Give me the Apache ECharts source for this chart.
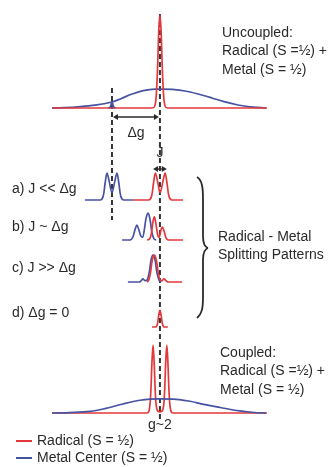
<!DOCTYPE html>
<html>
<head>
<meta charset="utf-8">
<script src="https://cdn.jsdelivr.net/npm/echarts@6/dist/echarts.min.js"></script>
<style>
  html, body { margin: 0; padding: 0; background: #ffffff; }
  #chart { width: 329px; height: 467px; }
</style>
</head>
<body>
<div id="chart"></div>
<script>
// ---- Field positions (arbitrary field units, 0-100) ----
const radicalField = 50.2;          // g ~ 2
const metalField = 27.9;            // metal centre g-value
const jSpan = [47.0, 53.4];         // width marked by the J arrow

// ---- Traces: [field, intensity] ----
// Uncoupled: radical (S = 1/2) + metal (S = 1/2)
const uncoupledRadical = [[0,0],[46.5,0],[47.8,0.02],[48.6,0.18],[49.2,0.5],[49.7,0.85],[50.2,1.0],[50.7,0.85],[51.2,0.5],[51.8,0.18],[52.6,0.02],[53.9,0],[100,0]];
const uncoupledMetal = [[0,0],[6,0.004],[12.1,0.012],[20,0.03],[27.9,0.065],[32,0.1],[37.2,0.15],[42,0.185],[47.9,0.204],[51.2,0.204],[56,0.2],[61.9,0.183],[68,0.15],[74.4,0.108],[80,0.068],[86.5,0.032],[92,0.012],[99.5,0]];
const uncoupledMetalLine = [[26.3,0],[27.2,0.015],[27.9,0.065],[28.6,0.015],[29.5,0]];

// a) J << dg
const aMetal = [[15.3,0],[22.5,0],[23.8,0.04],[24.7,0.18],[25.6,0.29],[26.6,0.2],[27.9,0.08],[29.2,0.2],[30.2,0.29],[31.1,0.18],[32,0.04],[33.3,0],[37.7,0]];
const aRadical = [[37.7,0],[45,0],[46.3,0.04],[47.2,0.18],[48.1,0.29],[49.1,0.2],[50.3,0.08],[51.6,0.2],[52.6,0.29],[53.5,0.18],[54.4,0.04],[55.7,0],[60.9,0]];

// b) J ~ dg
const bMetal = [[32.6,0],[36.4,0],[37.6,0.03],[38.6,0.11],[39.5,0.16],[40.4,0.11],[41.2,0.05],[42.1,0.03],[43.0,0.12],[43.8,0.24],[44.7,0.29],[45.6,0.22],[46.5,0.08],[47.5,0.01],[48.5,0]];
const bRadical = [[44.2,0],[45.4,0.01],[46.2,0.07],[47.0,0.2],[47.6,0.25],[48.3,0.18],[49.2,0.05],[49.8,0.03],[50.5,0.09],[51.3,0.14],[52.2,0.09],[53.1,0.02],[54.2,0],[60.9,0]];

// c) J >> dg
const cMetal = [[35.3,0],[40.5,0],[41.5,0.015],[42.3,0.035],[43.2,0.015],[44.2,0.02],[45.2,0.1],[46.1,0.24],[47.0,0.29],[47.9,0.24],[48.8,0.1],[49.8,0.02],[50.8,0]];
const cRadical = [[44.2,0],[45.0,0.02],[45.8,0.1],[46.7,0.24],[47.6,0.29],[48.5,0.24],[49.4,0.1],[50.3,0.02],[51.2,0.015],[52.1,0.035],[53.0,0.015],[54.0,0],[60.5,0]];

// d) dg = 0
const dRadical = [[46.5,0],[48.2,0],[49.0,0.03],[49.6,0.12],[50.2,0.18],[50.8,0.12],[51.4,0.03],[52.2,0],[53.9,0]];

// Coupled: radical (S = 1/2) + metal (S = 1/2)
const coupledRadical = [[0,0],[44.2,0],[45.2,0.03],[45.9,0.2],[46.5,0.55],[47.0,0.73],[47.5,0.55],[48.1,0.2],[48.8,0.04],[50.2,0.012],[51.6,0.04],[52.3,0.2],[52.9,0.55],[53.4,0.73],[53.9,0.55],[54.5,0.2],[55.2,0.03],[56.2,0],[100,0]];
const coupledMetal = [[0,0],[8,0.005],[17.7,0.018],[25,0.05],[33,0.097],[40.9,0.137],[45.6,0.15],[50.2,0.152],[56.3,0.15],[64.2,0.126],[70,0.095],[76.7,0.065],[87.4,0.022],[93,0.008],[99.5,0]];

// ---- Text ----
const radicalName = 'Radical (S = ½)';
const metalName = 'Metal Center (S = ½)';
const patternLabels = ['a) J << Δg', 'b) J ~ Δg', 'c) J >> Δg', 'd) Δg = 0'];
const uncoupledLabel = ['Uncoupled:', 'Radical (S =½) +', 'Metal (S = ½)'];
const coupledLabel = ['Coupled:', 'Radical (S =½) +', 'Metal (S = ½)'];
const splittingLabel = ['Radical - Metal', 'Splitting Patterns'];

// ---- Layout ----
const RED = '#e3383b';
const BLUE = '#4652a2';
const INK = '#2a2a2a';
const FONT = '"Liberation Sans", Arial, sans-serif';
const baselines = [108, 200, 240, 282, 327, 413];   // one strip per trace set
const stripH = 93;                                  // pixels per unit intensity

const grids = baselines.map(b => ({ left: 52, right: 62, top: b - stripH, height: stripH }));
const xAxes = grids.map((g, i) => ({ type: 'value', gridIndex: i, min: 0, max: 100, show: false }));
const yAxes = grids.map((g, i) => ({ type: 'value', gridIndex: i, min: 0, max: 1, show: false }));

function trace(data, strip, color, name, width) {
  return {
    type: 'line', name: name, data: data, xAxisIndex: strip, yAxisIndex: strip,
    showSymbol: false, smooth: 0.35, clip: false,
    lineStyle: { color: color, width: width || 1.7 },
    itemStyle: { color: color }
  };
}

const series = [
  trace(uncoupledMetal, 0, BLUE, metalName),
  trace(uncoupledRadical, 0, RED, radicalName),
  trace(uncoupledMetalLine, 0, BLUE, metalName),
  trace(aMetal, 1, BLUE, metalName),
  trace(aRadical, 1, RED, radicalName),
  trace(bMetal, 2, BLUE, metalName),
  trace(bRadical, 2, RED, radicalName),
  trace(cMetal, 3, BLUE, metalName),
  trace(cRadical, 3, RED, radicalName),
  trace(dRadical, 4, RED, radicalName),
  trace(coupledRadical, 5, RED, radicalName),
  trace(coupledMetal, 5, BLUE, metalName)
];

const chart = echarts.init(document.getElementById('chart'), null, { renderer: 'canvas' });
chart.setOption({
  backgroundColor: '#ffffff',
  animation: false,
  grid: grids,
  xAxis: xAxes,
  yAxis: yAxes,
  legend: {
    orient: 'vertical', left: 16, top: 434, padding: 0,
    icon: 'rect', itemWidth: 16, itemHeight: 2, itemGap: 3,
    data: [radicalName, metalName],
    textStyle: { fontFamily: FONT, fontSize: 14, color: INK }
  },
  series: series
});

// ---- Annotations placed from the field axis ----
const fx = v => chart.convertToPixel({ xAxisIndex: 0 }, v);

function text(str, x, y, align, size) {
  return { type: 'text', silent: true, style: {
    text: str, x: x, y: y, fill: INK, align: align || 'left', verticalAlign: 'middle',
    font: (size || 14) + 'px ' + FONT } };
}
function seg(x1, y1, x2, y2, color, w, dash) {
  return { type: 'line', silent: true, shape: { x1: x1, y1: y1, x2: x2, y2: y2 },
    style: { stroke: color, lineWidth: w, lineDash: dash || null } };
}
function curve(p0, c1, c2, p1) {
  return { type: 'bezierCurve', silent: true,
    shape: { x1: p0[0], y1: p0[1], cpx1: c1[0], cpy1: c1[1], cpx2: c2[0], cpy2: c2[1], x2: p1[0], y2: p1[1] },
    style: { fill: null, stroke: INK, lineWidth: 1.8 } };
}
function doubleArrow(x1, x2, y) {
  const L = 5, W = 3;
  return [
    seg(x1 + 2, y, x2 - 2, y, INK, 1.3),
    { type: 'polygon', silent: true, shape: { points: [[x1, y], [x1 + L, y - W], [x1 + L, y + W]] },
      style: { fill: INK } },
    { type: 'polygon', silent: true, shape: { points: [[x2, y], [x2 - L, y - W], [x2 - L, y + W]] },
      style: { fill: INK } }
  ];
}

const xR = fx(radicalField), xM = fx(metalField);
const graphic = [
  seg(xM, 88, xM, 220, '#333333', 2, [5, 3]),
  seg(xR, 14, xR, 419, '#333333', 2, [5, 3]),
  ...doubleArrow(xM + 1, xR - 1, 117),
  ...doubleArrow(fx(jSpan[0]), fx(jSpan[1]), 169),
  text('Δg', (xM + xR) / 2, 133, 'center'),
  text('J', xR, 153, 'center'),
  text('g~2', xR, 425, 'center'),
  // brace grouping the splitting patterns
  curve([197, 177], [202.5, 180], [203, 189], [203, 200]),
  { type: 'line', silent: true, shape: { x1: 203, y1: 200, x2: 203, y2: 236 }, style: { stroke: INK, lineWidth: 1.8 } },
  curve([203, 236], [203, 244], [204.5, 247], [208, 248]),
  curve([208, 248], [204.5, 249], [203, 252], [203, 260]),
  { type: 'line', silent: true, shape: { x1: 203, y1: 260, x2: 203, y2: 297 }, style: { stroke: INK, lineWidth: 1.8 } },
  curve([203, 297], [203, 308], [202, 314], [197, 318])
];
uncoupledLabel.forEach((s, i) => graphic.push(text(s, 222, 33 + i * 18.5)));
coupledLabel.forEach((s, i) => graphic.push(text(s, 220, 353 + i * 18.5)));
splittingLabel.forEach((s, i) => graphic.push(text(s, 218, 237 + i * 18)));
[189, 227, 268, 313].forEach((y, i) => graphic.push(text(patternLabels[i], 12, y)));

chart.setOption({ graphic: graphic });
</script>
</body>
</html>
